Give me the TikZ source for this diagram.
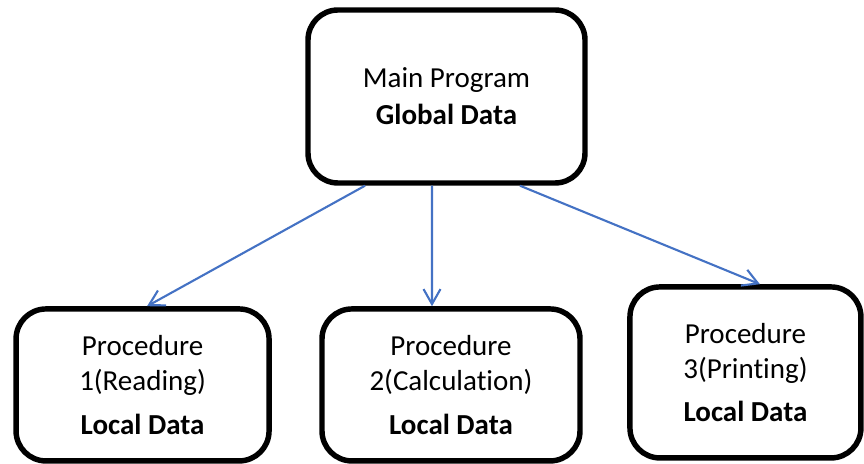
\documentclass[tikz,border=0pt]{standalone}
\usepackage{fontspec}
\setmainfont[Ligatures=NoCommon]{Carlito}
\usetikzlibrary{arrows.meta, positioning}
\definecolor{linkblue}{HTML}{4472C4}

\begin{document}
\begin{tikzpicture}[
  box/.style={draw=black, fill=white, line width=3.1pt, rounded corners=0.6cm,
              align=center, font=\fontsize{16.5}{20}\selectfont},
  link/.style={-{Straight Barb[length=0.3cm, width=0.34cm]}, draw=linkblue, line width=1.2pt}]
  \useasboundingbox (0,0) rectangle (17.28,-9.28);
  % Main program
  \node[box, minimum width=5.54cm, minimum height=3.46cm] (main) at (8.93,-1.93)
        {Main Program\\[1pt]\textbf{Global Data}};
  % Procedures
  \node[box, minimum width=5.16cm, minimum height=3.04cm,
        below=2.41cm of main, xshift=0.09cm] (proc2)
        {Procedure\\2(Calculation)\\[4.5pt]\textbf{Local Data}};
  \node[box, minimum width=5.06cm, minimum height=3.04cm,
        left=0.95cm of proc2] (proc1)
        {Procedure\\1(Reading)\\[4.5pt]\textbf{Local Data}};
  \node[box, minimum width=4.62cm, minimum height=3.42cm,
        right=0.89cm of proc2, yshift=0.25cm] (proc3)
        {Procedure\\3(Printing)\\[4.5pt]\textbf{Local Data}};
  % Arrows
  \draw[link] ([xshift=-1.63cm]main.south) -- ([xshift=0.09cm]proc1.north);
  \draw[link] ([xshift=-0.29cm]main.south) -- ([xshift=-0.38cm]proc2.north);
  \draw[link] ([xshift=1.47cm]main.south) -- ([xshift=0.29cm]proc3.north);
\end{tikzpicture}
\end{document}
